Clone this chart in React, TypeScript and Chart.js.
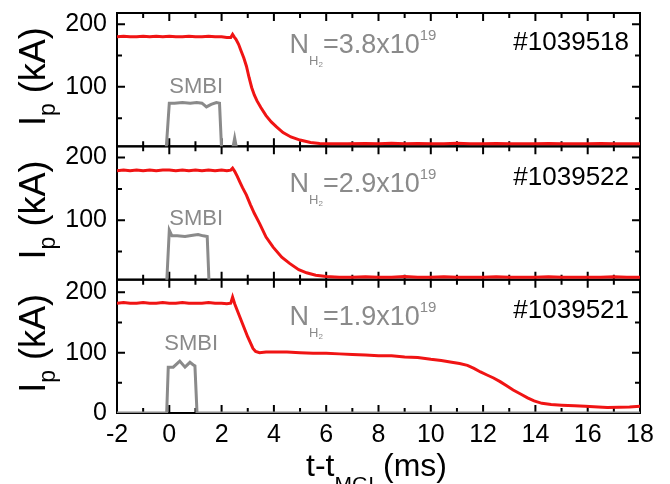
import { useEffect, useRef } from 'react';
import { Chart, registerables } from 'chart.js';

Chart.register(...registerables);

// Plasma current I_p (kA) versus time after MGI trigger (ms), three shots.
const timeShot1039518 = [-2, -1.75, -1.5, -1.25, -1, -0.75, -0.5, -0.25, 0, 0.25, 0.5, 0.75, 1, 1.25, 1.5, 1.75, 2, 2.2, 2.35, 2.42, 2.48, 2.55, 2.65, 2.75, 2.85, 2.95, 3.05, 3.15, 3.25, 3.35, 3.5, 3.7, 3.9, 4.1, 4.35, 4.65, 5.0, 5.4, 5.75, 6.2, 6.8, 7.5, 8, 8.5, 9, 9.5, 10, 10.5, 11, 11.5, 12, 12.5, 13, 13.5, 14, 14.5, 15, 15.5, 16, 16.5, 17, 17.5, 18];
const ipShot1039518 = [180, 181, 180, 180, 181, 180, 181, 180, 181, 180, 180, 181, 180, 180, 181, 180, 180, 179, 179, 184, 180, 176, 168, 157, 146, 133, 115, 99, 87, 78, 67, 54, 44, 36, 27, 20, 15, 11, 9.5, 9, 9, 9.5, 9, 10, 9, 9.5, 9, 9, 10, 9, 9, 9.5, 9, 9, 9, 9.5, 9, 9, 9, 9.5, 9, 9, 9];
const smbiTimeShot1039518 = [-2, -0.12, 0.0, 0.2, 0.5, 0.8, 1.05, 1.25, 1.42, 1.6, 1.8, 1.92, 2.0, 2.42, 2.5, 2.58, 18];
const smbiShot1039518 = [0, 0, 74, 74, 75, 74, 75, 74, 68, 72, 75, 74, 0, 0, 18, 0, 0];

const timeShot1039522 = [-2, -1.75, -1.5, -1.25, -1, -0.75, -0.5, -0.25, 0, 0.25, 0.5, 0.75, 1, 1.25, 1.5, 1.75, 2, 2.2, 2.35, 2.42, 2.5, 2.6, 2.7, 2.8, 2.95, 3.1, 3.25, 3.45, 3.7, 3.97, 4.3, 4.6, 4.95, 5.25, 5.6, 6.0, 6.5, 7, 7.5, 8, 8.5, 9, 9.5, 10, 10.5, 11, 11.5, 12, 12.5, 13, 13.5, 14, 14.5, 15, 15.5, 16, 16.5, 17, 17.5, 18];
const ipShot1039522 = [179, 180, 179, 180, 179, 180, 179, 180, 180, 179, 180, 179, 180, 179, 180, 179, 180, 179, 180, 183, 178, 170, 161, 152, 140, 125, 111, 95, 73, 57, 41, 31, 21, 16, 12, 10, 9, 9, 9.5, 9, 9, 10, 9, 9, 9.5, 9, 9, 9, 9.5, 9, 9, 9, 9.5, 9, 9, 9, 9, 9.5, 9, 9];
const smbiTimeShot1039522 = [-2, -0.1, 0.0, 0.1, 0.3, 0.6, 0.9, 1.1, 1.3, 1.45, 1.52, 18];
const smbiShot1039522 = [0, 0, 84, 75, 75, 74, 76, 77, 75, 74, 0, 0];

const timeShot1039521 = [-2, -1.75, -1.5, -1.25, -1, -0.75, -0.5, -0.25, 0, 0.25, 0.5, 0.75, 1, 1.25, 1.5, 1.75, 2, 2.2, 2.35, 2.42, 2.5, 2.6, 2.8, 3.0, 3.2, 3.3, 3.45, 3.7, 4, 4.5, 5, 5.5, 6, 6.5, 7, 7.5, 8, 8.5, 9, 9.5, 10, 10.4, 10.8, 11.1, 11.4, 11.65, 11.9, 12.15, 12.4, 12.65, 12.9, 13.15, 13.45, 13.7, 13.95, 14.25, 14.6, 15, 15.5, 15.9, 16.4, 16.75, 17.2, 17.6, 18];
const ipShot1039521 = [182, 183, 182, 182, 183, 182, 182, 183, 182, 182, 183, 182, 182, 182, 183, 182, 182, 181, 182, 192, 181, 170, 148, 126, 107, 102, 100, 101, 101, 101, 100, 99, 99, 98, 97, 96, 95, 95, 93, 92, 89, 87, 84, 82, 79, 74, 68, 63, 58, 52, 45, 38, 31, 25, 20, 16, 14, 13, 12, 11, 10, 9, 9.5, 10, 11];
const smbiTimeShot1039521 = [-2, -0.1, -0.04, 0.15, 0.4, 0.6, 0.79, 0.91, 0.98, 1.06, 18];
const smbiShot1039521 = [0, 0, 76, 76, 86, 76, 84, 80, 78, 0, 0];

// Panel ranges and labelled ticks, top to bottom
const panelYMin = [5, 5, 0];
const panelYMax = [218, 218, 221];
const panelYTicks = [[100, 200], [100, 200], [0, 100, 200]];
const shotNames = ['#1039518', '#1039522', '#1039521'];
const gasAmount = ['3.8', '2.9', '1.9'];

const panelIds = ['yTop', 'yMid', 'yBottom'];
const FONT = "'Liberation Sans', Arial, Helvetica, sans-serif";
const RED = '#f01414';
const GRAY = '#8a8a8a';

type Part = { text: string; size: number; dy?: number };

function drawParts(ctx: CanvasRenderingContext2D, parts: Part[], x: number, y: number, align: 'left' | 'center' | 'right', color: string) {
  let total = 0;
  const widths = parts.map((p) => {
    ctx.font = `${p.size}px ${FONT}`;
    const w = ctx.measureText(p.text).width;
    total += w;
    return w;
  });
  let cx = align === 'left' ? x : align === 'center' ? x - total / 2 : x - total;
  ctx.fillStyle = color;
  ctx.textAlign = 'left';
  ctx.textBaseline = 'alphabetic';
  parts.forEach((p, i) => {
    ctx.font = `${p.size}px ${FONT}`;
    ctx.fillText(p.text, cx, y + (p.dy || 0));
    cx += widths[i];
  });
}

// Keep each trace inside its own panel
const panelClip = {
  id: 'panelClip',
  beforeDatasetDraw(chart: any, args: any) {
    const ys = args.meta.yScale;
    const { ctx, chartArea } = chart;
    ctx.save();
    ctx.beginPath();
    ctx.rect(chartArea.left - 2, ys.top - 1, chartArea.right - chartArea.left + 4, ys.bottom - ys.top + 2);
    ctx.clip();
  },
  afterDatasetDraw(chart: any) {
    chart.ctx.restore();
  },
};

// Boxed panels with inward ticks on all four sides
const panelFrames = {
  id: 'panelFrames',
  beforeDatasetsDraw(chart: any) {
    const { ctx, chartArea } = chart;
    const xs = chart.scales.x;
    const left = chartArea.left;
    const right = chartArea.right;
    ctx.save();
    ctx.strokeStyle = '#000';
    ctx.lineWidth = 2;
    panelIds.forEach((id) => {
      const ys = chart.scales[id];
      const top = ys.top;
      const bottom = ys.bottom;
      ctx.strokeRect(left, top, right - left, bottom - top);
      ctx.beginPath();
      const ticks = xs.ticks;
      ticks.forEach((tk: any, i: number) => {
        const px = xs.getPixelForValue(tk.value);
        if (i > 0 && i < ticks.length - 1) {
          ctx.moveTo(px, top);
          ctx.lineTo(px, top + 8);
          ctx.moveTo(px, bottom);
          ctx.lineTo(px, bottom - 8);
        }
        if (i < ticks.length - 1) {
          const pm = xs.getPixelForValue((tk.value + ticks[i + 1].value) / 2);
          ctx.moveTo(pm, top);
          ctx.lineTo(pm, top + 5);
          ctx.moveTo(pm, bottom);
          ctx.lineTo(pm, bottom - 5);
        }
      });
      for (let v = Math.ceil(ys.min / 50) * 50; v <= ys.max; v += 50) {
        const py = ys.getPixelForValue(v);
        if (py <= top + 1 || py >= bottom - 1) continue;
        const len = v % 100 === 0 ? 8 : 5;
        ctx.moveTo(left, py);
        ctx.lineTo(left + len, py);
        ctx.moveTo(right, py);
        ctx.lineTo(right - len, py);
      }
      ctx.stroke();
    });
    ctx.restore();
  },
};

// Axis titles and per-panel annotations
const panelText = {
  id: 'panelText',
  afterDraw(chart: any) {
    const { ctx, chartArea } = chart;
    const xs = chart.scales.x;
    const smbiAt = [[1.03, 90], [1.03, 92], [0.84, 104]];
    const gasAt = [[4.6, 154], [4.6, 145], [4.6, 146]];
    const shotAt = [[17.58, 159], [17.58, 156], [17.58, 158]];
    ctx.save();
    panelIds.forEach((id, i) => {
      const ys = chart.scales[id];
      // y title
      ctx.save();
      ctx.translate(45, (ys.top + ys.bottom) / 2 - 3);
      ctx.rotate(-Math.PI / 2);
      drawParts(ctx, [
        { text: 'I', size: 36 },
        { text: 'p', size: 23, dy: 10 },
        { text: ' (kA)', size: 36 },
      ], 0, 0, 'center', '#000');
      ctx.restore();

      drawParts(ctx, [{ text: 'SMBI', size: 22 }],
        xs.getPixelForValue(smbiAt[i][0]), ys.getPixelForValue(smbiAt[i][1]), 'center', GRAY);

      drawParts(ctx, [
        { text: 'N', size: 27 },
        { text: 'H', size: 13, dy: 12 },
        { text: '2', size: 8, dy: 14 },
        { text: '=' + gasAmount[i] + 'x10', size: 27 },
        { text: '19', size: 15, dy: -13 },
      ], xs.getPixelForValue(gasAt[i][0]), ys.getPixelForValue(gasAt[i][1]), 'left', GRAY);

      drawParts(ctx, [{ text: shotNames[i], size: 26 }],
        xs.getPixelForValue(shotAt[i][0]), ys.getPixelForValue(shotAt[i][1]), 'right', '#000');
    });
    drawParts(ctx, [
      { text: 't-t', size: 32 },
      { text: 'MGI', size: 21, dy: 15 },
      { text: ' (ms)', size: 32 },
    ], (chartArea.left + chartArea.right) / 2 - 2, 476, 'center', '#000');
    ctx.restore();
  },
};

function toPoints(t: number[], v: number[]) {
  return t.map((x, i) => ({ x, y: v[i] }));
}

function yScale(i: number) {
  return {
    type: 'linear',
    position: 'left',
    stack: 'ip',
    stackWeight: 1,
    weight: 3 - i,
    min: panelYMin[i],
    max: panelYMax[i],
    grid: { display: false, drawTicks: false },
    border: { display: false },
    ticks: { font: { family: FONT, size: 25 }, color: '#000', padding: 10 },
    afterBuildTicks(s: any) {
      s.ticks = panelYTicks[i].map((value) => ({ value }));
    },
    afterFit(s: any) {
      s.width = 117;
      s.paddingTop = 0;
      s.paddingBottom = 0;
    },
  };
}

export default function App() {
  const canvasRef = useRef<HTMLCanvasElement | null>(null);

  useEffect(() => {
    if (!canvasRef.current) return;
    const traces = [
      [timeShot1039518, ipShot1039518, smbiTimeShot1039518, smbiShot1039518],
      [timeShot1039522, ipShot1039522, smbiTimeShot1039522, smbiShot1039522],
      [timeShot1039521, ipShot1039521, smbiTimeShot1039521, smbiShot1039521],
    ];
    const datasets: any[] = [];
    traces.forEach((tr, i) => {
      datasets.push({
        label: 'SMBI ' + shotNames[i],
        data: toPoints(tr[2], tr[3]),
        yAxisID: panelIds[i],
        borderColor: GRAY,
        borderWidth: 3,
        pointRadius: 0,
      });
      datasets.push({
        label: 'Ip ' + shotNames[i],
        data: toPoints(tr[0], tr[1]),
        yAxisID: panelIds[i],
        borderColor: RED,
        borderWidth: 3,
        pointRadius: 0,
      });
    });

    const chart = new Chart(canvasRef.current, {
      type: 'line',
      data: { datasets },
      options: {
        animation: false,
        responsive: false,
        devicePixelRatio: 1,
        layout: { padding: { left: 0, right: 30, top: 13, bottom: 0 } },
        plugins: { legend: { display: false }, tooltip: { enabled: false } },
        elements: { line: { tension: 0 }, point: { radius: 0 } },
        scales: {
          x: {
            type: 'linear',
            position: 'bottom',
            min: -2,
            max: 18,
            grid: { display: false, drawTicks: false },
            border: { display: false },
            ticks: { stepSize: 2, font: { family: FONT, size: 25 }, color: '#000', padding: 7, maxRotation: 0, autoSkip: false },
            afterFit(s: any) {
              s.height = 71;
              s.paddingLeft = 0;
              s.paddingRight = 0;
            },
          },
          [panelIds[0]]: yScale(0),
          [panelIds[1]]: yScale(1),
          [panelIds[2]]: yScale(2),
        } as any,
      },
      plugins: [panelClip, panelFrames, panelText],
    });
    return () => chart.destroy();
  }, []);

  return (
    <div style={{ position: 'absolute', left: 0, top: 0, width: 670, height: 484, background: '#fff' }}>
      <canvas ref={canvasRef} width={670} height={484} />
    </div>
  );
}
